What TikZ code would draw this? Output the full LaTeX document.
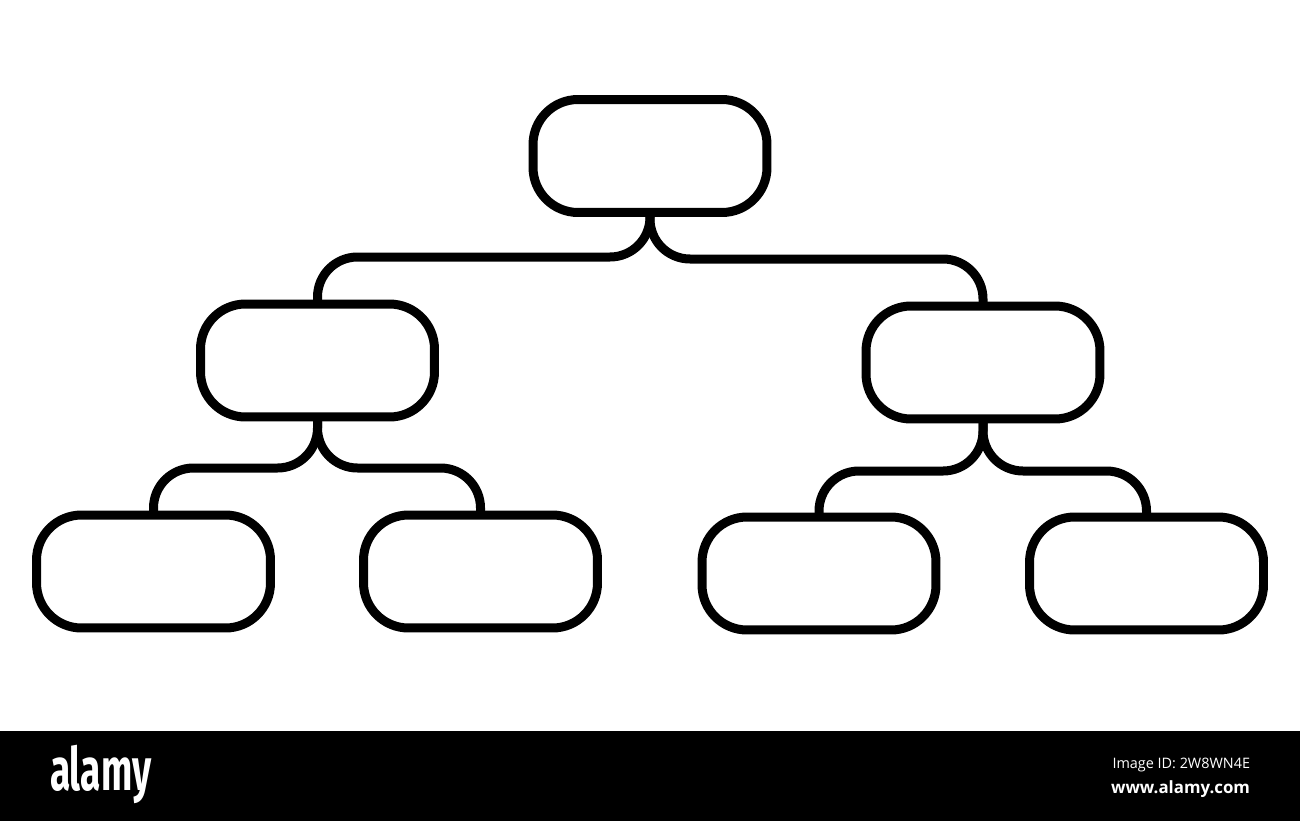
\documentclass[tikz,border=0pt]{standalone}
\usepackage{fontspec}
\usepackage{graphicx}
\setmainfont{Open Sans}
\newfontfamily\logofont{Fira Sans}
\begin{document}
\begin{tikzpicture}[x=0.02cm,y=-0.02cm,
  box/.style={draw=black,line width=0.18cm,rounded corners=0.9cm,
    minimum width=4.68cm,minimum height=2.26cm,inner sep=0pt,outer sep=0pt},
  conn/.style={draw=black,line width=0.18cm,rounded corners=0.8cm},
  wm/.style={text=white,inner sep=0pt,outer sep=0pt}]
\useasboundingbox[fill=white] (0,0) rectangle (1300,821);
\fill[black] (0,731) rectangle (1300,821);
% boxes
\node[box] (top) at (650,156) {};
\node[box] (ml) at (317.5,360.5) {};
\node[box] (mr) at (983,362.5) {};
\node[box] (b1) at (153.5,571.5) {};
\node[box] (b2) at (480.5,571.5) {};
\node[box] (b3) at (819,573.5) {};
\node[box] (b4) at (1146.5,573.5) {};
% connectors
\draw[conn] (top.south) |- (ml.north |- 0,257) -- (ml.north);
\draw[conn] (top.south) |- (mr.north |- 0,259) -- (mr.north);
\draw[conn] (ml.south) |- (b1.north |- 0,468) -- (b1.north);
\draw[conn] (ml.south) |- (b2.north |- 0,468) -- (b2.north);
\draw[conn] (mr.south) |- (b3.north |- 0,471) -- (b3.north);
\draw[conn] (mr.south) |- (b4.north |- 0,471) -- (b4.north);
% watermark bar
\node[wm,anchor=base west] (logo) at (50,790) {\scalebox{0.62}[1]{\logofont\bfseries\fontsize{34pt}{34pt}\selectfont alamy}};
\node[wm,anchor=base east] (imgid) at (1250,768) {\fontsize{8.2pt}{9pt}\selectfont Image ID: 2W8WN4E};
\node[wm,anchor=base east] (site) at (1250,793) {\fontsize{9.6pt}{11pt}\selectfont\bfseries www.alamy.com};
\end{tikzpicture}
\end{document}
